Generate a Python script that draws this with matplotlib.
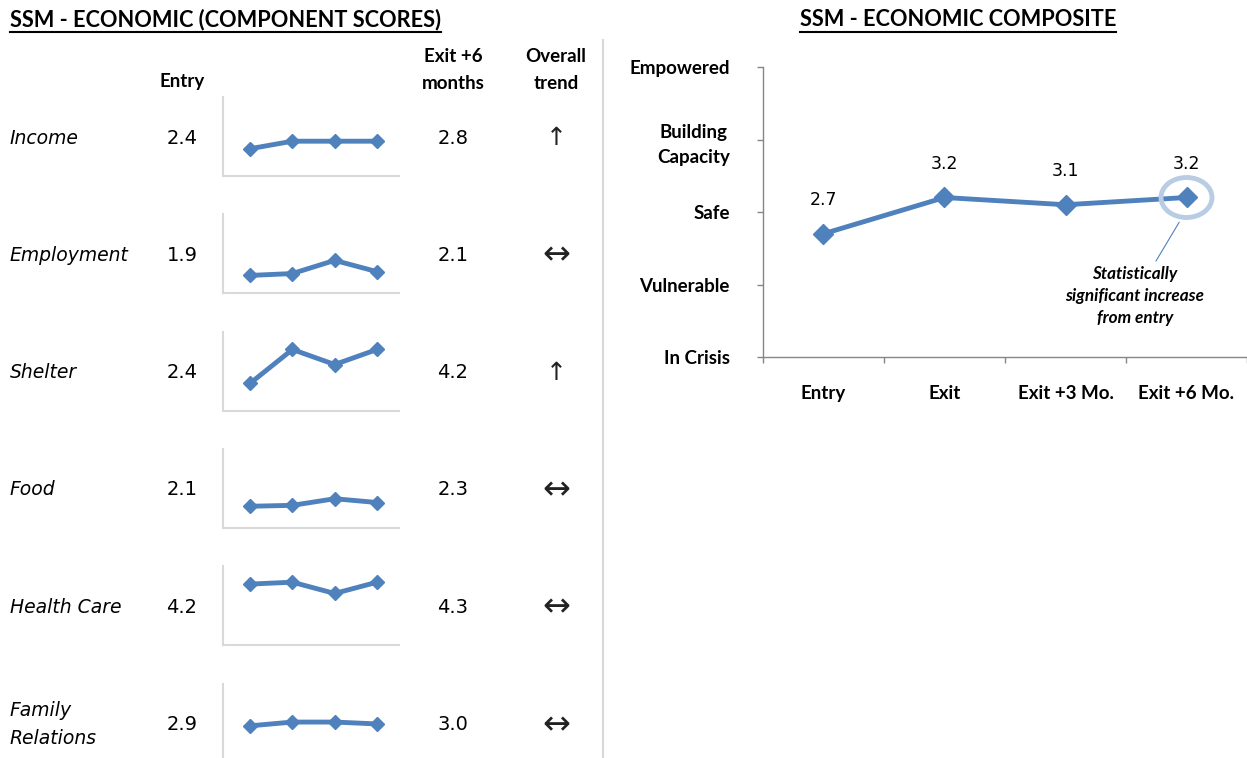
import matplotlib
matplotlib.use("Agg")
import matplotlib.pyplot as plt
from matplotlib.lines import Line2D
from matplotlib.patches import Ellipse

W, H = 1247, 758
BLUE = "#4f81bd"
LIGHT = "#d9d9d9"
HEAD_FONT = "Lato"
BODY_FONT = "DejaVu Sans"

# component scores: Entry, Exit, Exit +3, Exit +6
components = ["Income", "Employment", "Shelter", "Food", "Health Care", "Family\nRelations"]
entry_scores = ["2.4", "1.9", "2.4", "2.1", "4.2", "2.9"]
exit6_scores = ["2.8", "2.1", "4.2", "2.3", "4.3", "3.0"]
trends = ["↑", "↔", "↑", "↔", "↔", "↔"]
sparks = [
    [2.4, 2.8, 2.8, 2.8],
    [1.9, 2.0, 2.7, 2.1],
    [2.4, 4.2, 3.4, 4.2],
    [2.1, 2.15, 2.5, 2.3],
    [4.2, 4.3, 3.7, 4.3],
    [2.9, 3.1, 3.1, 3.0],
]

# composite
periods = ["Entry", "Exit", "Exit +3 Mo.", "Exit +6 Mo."]
composite = [2.7, 3.2, 3.1, 3.2]
levels = ["In Crisis", "Vulnerable", "Safe", "Building\nCapacity", "Empowered"]

fig = plt.figure(figsize=(W / 100, H / 100), dpi=100)
fig.patch.set_facecolor("white")


def px_axes(x0, y0, x1, y1):
    return fig.add_axes([x0 / W, 1 - y1 / H, (x1 - x0) / W, (y1 - y0) / H])


def ftext(x, y, s, **kw):
    return fig.text(x / W, 1 - y / H, s, **kw)


def underline(t, y):
    fig.canvas.draw()
    bb = t.get_window_extent(renderer=fig.canvas.get_renderer())
    fig.add_artist(Line2D([bb.x0 / W, bb.x1 / W], [1 - y / H, 1 - y / H],
                          transform=fig.transFigure, color="black", lw=1.5))


# ---- left panel: component table ----
t1 = ftext(10, 20, "SSM - ECONOMIC (COMPONENT SCORES)", family=HEAD_FONT,
           weight="bold", fontsize=15.7, ha="left", va="center")
underline(t1, 32)

ftext(182, 81, "Entry", family=HEAD_FONT, weight="bold", fontsize=13.5,
      ha="center", va="center")
ftext(453, 70, "Exit +6\nmonths", family=HEAD_FONT, weight="bold", fontsize=13.5,
      ha="center", va="center", linespacing=1.75)
ftext(556, 70, "Overall\ntrend", family=HEAD_FONT, weight="bold", fontsize=13.5,
      ha="center", va="center", linespacing=1.75)

# separator between the panels
fig.add_artist(Line2D([603 / W, 603 / W], [0, 1 - 40 / H], transform=fig.transFigure,
                      color=LIGHT, lw=1.5))

row_step = 117.3
for i, name in enumerate(components):
    yc = 138 + row_step * i
    ftext(10, yc, name, family=BODY_FONT, style="italic", fontsize=13.5,
          ha="left", va="center", linespacing=1.6)
    ftext(182, yc, entry_scores[i], family=BODY_FONT, fontsize=14,
          ha="center", va="center")
    ftext(453, yc, exit6_scores[i], family=BODY_FONT, fontsize=14,
          ha="center", va="center")
    ftext(556, yc, trends[i], family=BODY_FONT,
          fontsize=18 if trends[i] == "↑" else 24,
          ha="center", va="center", color="#222222")

    top = 97 + row_step * i
    ax = px_axes(223, top, 399, top + 79)
    ax.plot(range(4), sparks[i], color=BLUE, lw=3.5, marker="D", ms=7.5,
            solid_joinstyle="round")
    ax.set_xlim(-0.64, 3.52)
    ax.set_ylim(0.95, 5.15)
    ax.set_xticks([])
    ax.set_yticks([])
    for s in ["top", "right"]:
        ax.spines[s].set_visible(False)
    for s in ["left", "bottom"]:
        ax.spines[s].set_color(LIGHT)
        ax.spines[s].set_linewidth(1.5)
    ax.patch.set_alpha(0)

# ---- right panel: composite ----
t2 = ftext(958, 20, "SSM - ECONOMIC COMPOSITE", family=HEAD_FONT,
           weight="bold", fontsize=15.7, ha="center", va="center")
underline(t2, 32)

ax = px_axes(763, 67, 1247, 357)
x = list(range(len(periods)))
ax.plot(x, composite, color=BLUE, lw=3.5, marker="D", ms=10,
        solid_joinstyle="round", zorder=3)
for xi, v in zip(x, composite):
    ax.annotate(f"{v:.1f}", (xi, v), xytext=(0, 24), textcoords="offset points",
                ha="center", va="center", family=BODY_FONT, fontsize=12.5)

# highlight of the last point (about 51 x 40 px)
ax.add_patch(Ellipse((x[-1], composite[-1]), 51 / 121, 40 / 72.5, facecolor="none",
                     edgecolor="#b8cce4", lw=3.5, zorder=4, clip_on=False))
ax.annotate("Statistically\nsignificant increase\nfrom entry",
            xy=(2.94, 2.86), xytext=(2.574, 1.84), textcoords="data",
            ha="center", va="center", family=HEAD_FONT, style="italic",
            weight="bold", fontsize=12.3, linespacing=1.45,
            arrowprops=dict(arrowstyle="-", color=BLUE, lw=0.8,
                            shrinkA=2, shrinkB=0))

ax.set_xlim(-0.5, 3.5)
ax.set_ylim(1, 5)
ax.set_yticks(range(1, 6))
ax.set_yticklabels(levels, family=HEAD_FONT, weight="bold", fontsize=13.5,
                   multialignment="center", linespacing=1.55)
ax.set_xticks([-0.5, 0.5, 1.5, 2.5, 3.5])
ax.set_xticklabels([])
ax.set_xticks(x, minor=True)
ax.set_xticklabels(periods, minor=True, family=HEAD_FONT, weight="bold",
                   fontsize=13.5)
ax.tick_params(axis="y", direction="out", length=4, width=1, color="#868686",
               pad=20)
ax.tick_params(axis="x", which="major", direction="out", length=4, width=1,
               color="#868686")
ax.tick_params(axis="x", which="minor", length=0, pad=20)
for s in ["top", "right"]:
    ax.spines[s].set_visible(False)
for s in ["left", "bottom"]:
    ax.spines[s].set_color("#868686")
    ax.spines[s].set_linewidth(1)
ax.patch.set_alpha(0)

fig.savefig("out.png", dpi=100)
